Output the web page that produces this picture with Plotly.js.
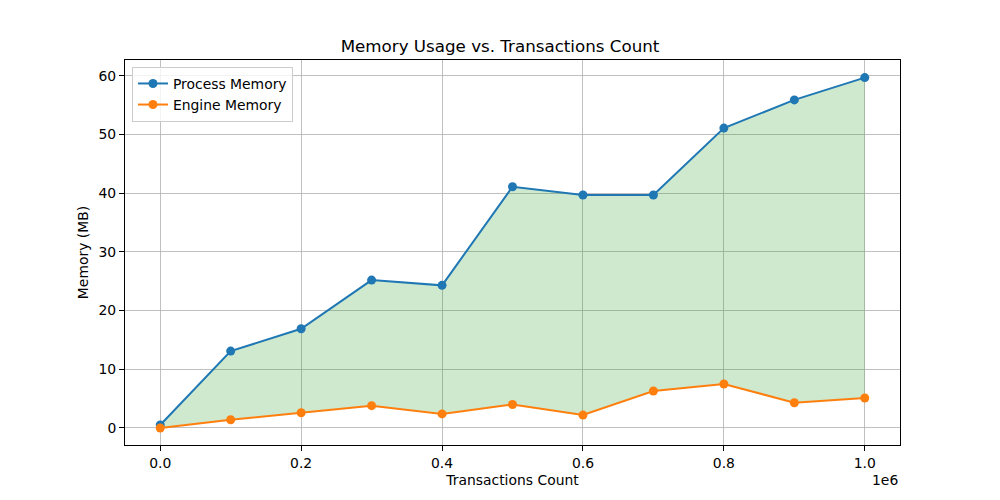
<!DOCTYPE html>
<html>
<head>
<meta charset="utf-8">
<script src="https://cdn.plot.ly/plotly-3.0.1.min.js"></script>
<style>html,body{margin:0;padding:0;background:#fff;}#chart{width:1000px;height:500px;}</style>
</head>
<body>
<div id="chart"></div>
<script>
const transactions = [0, 100000, 200000, 300000, 400000, 500000, 600000, 700000, 800000, 900000, 1000000];
const processMemory = [0.5, 13.1, 16.9, 25.2, 24.3, 41.1, 39.7, 39.7, 51.1, 55.9, 59.7];
const engineMemory = [0.0, 1.4, 2.6, 3.8, 2.4, 4.0, 2.2, 6.3, 7.5, 4.3, 5.1];
const xScale = 1e6;
const xTickVals = [0, 0.2, 0.4, 0.6, 0.8, 1.0];
const yTickVals = [0, 10, 20, 30, 40, 50, 60];

const xs = transactions.map(v => v / xScale);
const font = {family: 'DejaVu Sans, sans-serif', size: 13.9, color: '#000'};

const traces = [
  // fill base (no legend)
  {
    x: xs, y: engineMemory, type: 'scatter', mode: 'lines',
    line: {width: 0, color: 'rgba(0,0,0,0)'}, showlegend: false, hoverinfo: 'skip'
  },
  {
    x: xs, y: processMemory, type: 'scatter', mode: 'lines',
    fill: 'tonexty', fillcolor: 'rgba(44,160,44,0.23)',
    line: {width: 0, color: 'rgba(0,0,0,0)'}, showlegend: false, hoverinfo: 'skip'
  },
  {
    x: xs, y: processMemory, type: 'scatter', mode: 'lines+markers',
    name: 'Process Memory',
    line: {color: '#1f77b4', width: 2},
    marker: {color: '#1f77b4', size: 9}
  },
  {
    x: xs, y: engineMemory, type: 'scatter', mode: 'lines+markers',
    name: 'Engine Memory',
    line: {color: '#ff7f0e', width: 2},
    marker: {color: '#ff7f0e', size: 9}
  }
];

const axisCommon = {
  showline: true, linecolor: '#000', linewidth: 1, mirror: true,
  ticks: 'outside', ticklen: 5, tickcolor: '#000', tickwidth: 1,
  showgrid: true, gridcolor: '#b0b0b0', gridwidth: 0.8,
  zeroline: false, tickfont: font
};

const layout = {
  width: 1000, height: 500,
  margin: {l: 125, r: 100, t: 60, b: 55},
  paper_bgcolor: '#fff', plot_bgcolor: '#fff',
  font: font,
  title: {text: 'Memory Usage vs. Transactions Count', font: {family: 'DejaVu Sans, sans-serif', size: 16.7, color: '#000'}, x: 0.5, xanchor: 'center', y: 0.908, yanchor: 'middle'},
  xaxis: Object.assign({}, axisCommon, {
    range: [-0.05, 1.05], tickvals: xTickVals, tickformat: '.1f',
    title: {text: 'Transactions Count', font: font, standoff: 5}
  }),
  yaxis: Object.assign({}, axisCommon, {
    range: [-2.9, 62.7], tickvals: yTickVals,
    title: {text: 'Memory (MB)', font: font, standoff: 6}
  }),
  showlegend: true,
  legend: {
    x: 0.009, y: 0.982, xanchor: 'left', yanchor: 'top',
    bgcolor: 'rgba(255,255,255,0.8)', bordercolor: '#cccccc', borderwidth: 1,
    font: font, traceorder: 'normal', tracegroupgap: 0
  },
  annotations: [{
    text: '1e6', xref: 'paper', yref: 'paper', x: 1, y: -0.065,
    xanchor: 'right', yanchor: 'top', showarrow: false, font: font
  }]
};

Plotly.newPlot('chart', traces, layout, {displayModeBar: false, staticPlot: true});
</script>
</body>
</html>
